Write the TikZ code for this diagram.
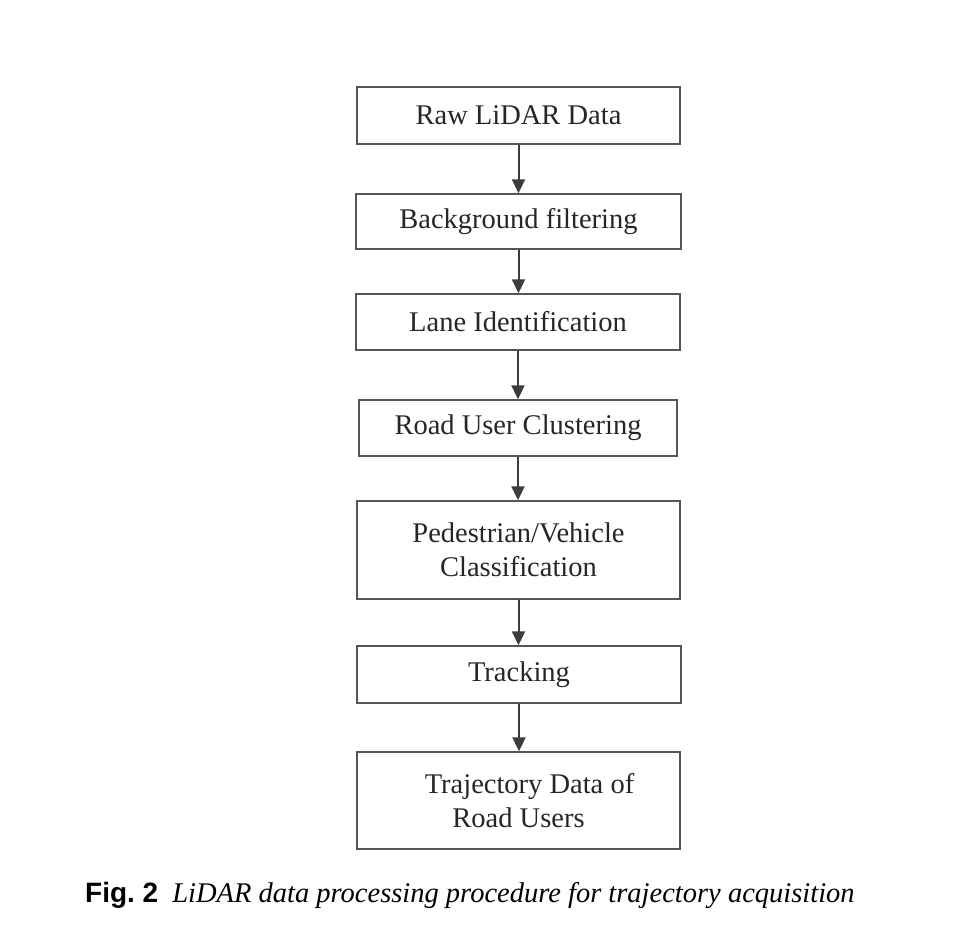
\documentclass[tikz,border=0pt]{standalone}
\usepackage{fontspec}
\setmainfont{Liberation Serif}
\newfontfamily\capsans{Liberation Sans}
\usetikzlibrary{arrows.meta}
\definecolor{boxline}{HTML}{555555}
\definecolor{arrowline}{HTML}{3C3C3C}
\begin{document}
\begin{tikzpicture}[x=1pt,y=-1pt,
  stepbox/.style={draw=boxline,line width=1.4pt,rectangle,inner sep=0pt,align=center,
    font=\fontsize{28.5}{34}\selectfont,text=black!85},
  flow/.style={draw=arrowline,line width=2pt,-{Triangle[length=14pt,width=13pt]}}]
\useasboundingbox (0,0) rectangle (972,936);
\node[stepbox,minimum width=323pt,minimum height=57pt] (raw) at (518.5,115.5) {Raw LiDAR Data};
\node[stepbox,minimum width=325pt,minimum height=55pt] (bg) at (518.5,221.5) {Background filtering};
\node[stepbox,minimum width=324pt,minimum height=56pt] (lane) at (518,322) {Lane Identification};
\node[stepbox,minimum width=318pt,minimum height=56pt] (clus) at (518,428) {Road User Clustering};
\node[stepbox,minimum width=323pt,minimum height=98pt] (cls) at (518.5,550) {Pedestrian/Vehicle\\Classification};
\node[stepbox,minimum width=324pt,minimum height=57pt] (trk) at (519,674.5) {Tracking};
\node[stepbox,minimum width=323pt,minimum height=97pt] (traj) at (518.5,800.5) {\hspace*{22pt}Trajectory Data of\\Road Users};
\draw[flow] (raw.south) -- (raw.south |- bg.north);
\draw[flow] (bg.south) -- (bg.south |- lane.north);
\draw[flow] (lane.south) -- (lane.south |- clus.north);
\draw[flow] (clus.south) -- (clus.south |- cls.north);
\draw[flow] (cls.south) -- (cls.south |- trk.north);
\draw[flow] (trk.south) -- (trk.south |- traj.north);
\node[anchor=base west,inner sep=0pt] (cap) at (85,902) {{\capsans\bfseries\fontsize{28}{32}\selectfont Fig.~2}\hspace{14pt}{\itshape\fontsize{28.5}{32}\selectfont LiDAR data processing procedure for trajectory acquisition}};
\end{tikzpicture}
\end{document}
